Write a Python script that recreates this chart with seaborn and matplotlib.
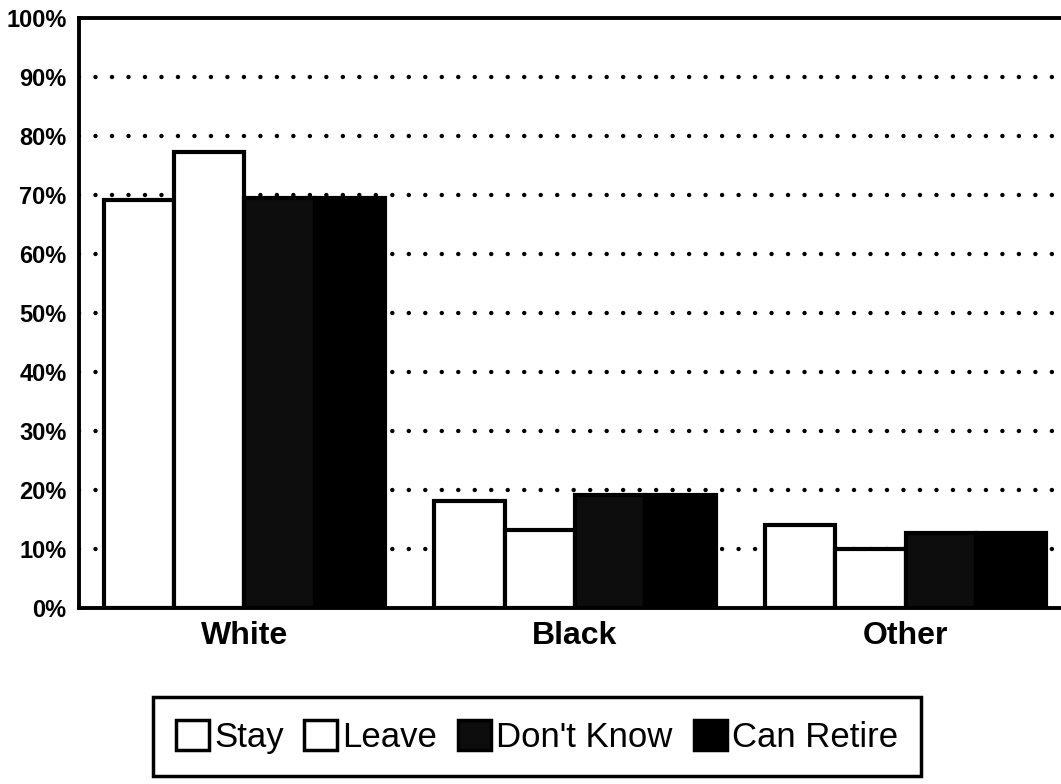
import pandas as pd
import numpy as np
import matplotlib.pyplot as plt
import seaborn as sns
from matplotlib.patches import Patch
from matplotlib.ticker import FuncFormatter

# values (percent)
groups = ["White", "Black", "Other"]
responses = ["Stay", "Leave", "Don't Know", "Can Retire"]
stay = [69.2, 18.2, 14.1]
leave = [77.3, 13.2, 10.0]
dont_know = [69.5, 19.2, 12.7]
can_retire = [69.5, 19.2, 12.7]

colors = ["white", "white", "#0d0d0d", "black"]

df = pd.DataFrame({
    "group": groups * 4,
    "response": np.repeat(responses, len(groups)),
    "value": stay + leave + dont_know + can_retire,
})

sns.set_style("white")
plt.rcParams["font.family"] = ["Liberation Sans", "DejaVu Sans"]
plt.rcParams["text.color"] = "black"
plt.rcParams["xtick.color"] = "black"
plt.rcParams["ytick.color"] = "black"

fig = plt.figure(figsize=(10.61, 7.84), dpi=100)
ax = fig.add_axes([79 / 1061, 1 - 608 / 784, (1071 - 79) / 1061, 590 / 784])

sns.barplot(data=df, x="group", y="value", hue="response", order=groups,
            hue_order=responses, palette=colors, edgecolor="black",
            linewidth=3, width=0.85, gap=0, saturation=1, ax=ax, legend=False)

ax.set_ylim(0, 100)
ax.set_xlim(-0.5, 2.5)
ax.set_yticks(range(0, 101, 10))
ax.yaxis.set_major_formatter(FuncFormatter(lambda v, p: f"{int(v)}%"))
ax.set_xlabel("")
ax.set_ylabel("")
ax.set_axisbelow(True)
ax.grid(axis="y", color="black", linewidth=3.2,
        linestyle=(0, (0.01, 3.7)), dash_capstyle="round")
ax.grid(axis="x", visible=False)
gl = ax.get_ygridlines()
gl[0].set_visible(False)
gl[-1].set_visible(False)

for side in ["left", "top", "bottom", "right"]:
    ax.spines[side].set_color("black")
    ax.spines[side].set_linewidth(2.8)

ax.tick_params(axis="y", length=0, pad=9, labelsize=17, labelcolor="black")
ax.tick_params(axis="x", length=0, pad=9, labelsize=23, labelcolor="black")
for lbl in ax.get_yticklabels() + ax.get_xticklabels():
    lbl.set_fontweight("bold")

handles = [Patch(facecolor=c, edgecolor="black", linewidth=2.5) for c in colors]
leg = fig.legend(handles, responses, loc="center", bbox_to_anchor=(0.506, 0.06),
                 ncol=4, fontsize=25, frameon=True, fancybox=False,
                 framealpha=1, edgecolor="black", handlelength=0.95,
                 handleheight=0.95, handletextpad=0.15, columnspacing=0.6,
                 borderpad=0.65)
leg.get_frame().set_linewidth(2.5)

fig.savefig("out.png", dpi=100)
